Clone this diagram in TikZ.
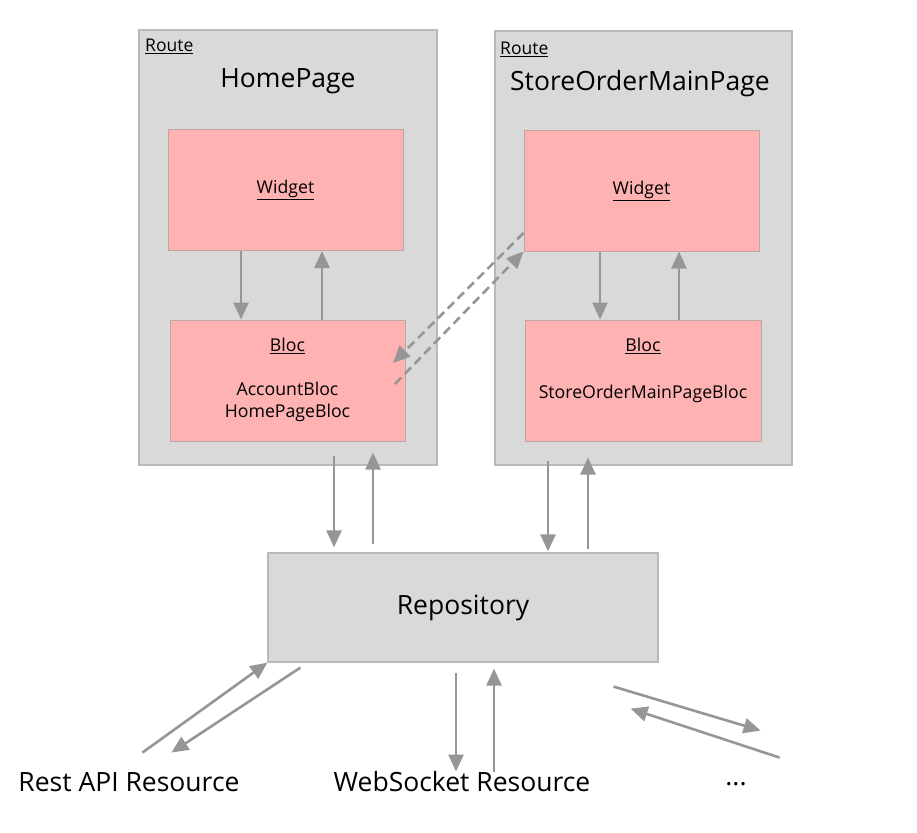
\documentclass[tikz,border=0pt]{standalone}
\usepackage{fontspec}
\setmainfont{Open Sans}
\usepackage{tikz}
\usetikzlibrary{arrows.meta, calc, positioning}

\definecolor{routegray}{RGB}{217,217,217}
\definecolor{routeline}{RGB}{185,185,185}
\definecolor{blocpink}{RGB}{255,178,178}
\definecolor{blocline}{RGB}{190,165,165}
\definecolor{arrgray}{RGB}{150,150,150}

\tikzset{
    routebox/.style={draw=routeline, fill=routegray, line width=1.2pt, inner sep=0pt},
    pinkbox/.style={draw=blocline, fill=blocpink, line width=1pt, inner sep=0pt,
        minimum width=235pt, minimum height=121pt},
    arr/.style={draw=arrgray, line width=2.6pt, -{Triangle[length=17pt,width=15pt]}},
    dasharr/.style={arr, dash pattern=on 9pt off 5pt},
    small/.style={font=\fontsize{17.5}{20}\selectfont, inner sep=0pt},
    mid/.style={font=\fontsize{17.7}{22}\selectfont, inner sep=0pt, align=center},
    big/.style={font=\fontsize{26.5}{30}\selectfont, inner sep=0pt}
}

\begin{document}
\begin{tikzpicture}[x=1pt, y=-1pt]
                \useasboundingbox (0,0) rectangle (917,832);

                \node[routebox, minimum width=298pt, minimum height=435pt] (hroute) at (288,247.5) {};
                \node[routebox, minimum width=297pt, minimum height=434pt] (sroute) at (643.5,248) {};
                \node[small, anchor=west] (hroutelbl) at (145,46) {\underline{Route}};
                \node[small, anchor=west] (sroutelbl) at (500,49) {\underline{Route}};
                \node[big] (htitle) at (288,81) {HomePage};
                \node[big] (stitle) at (640,84) {StoreOrderMainPage};

                \node[pinkbox] (hwidget) at (285.5,190) {};
                \node[pinkbox] (hbloc) at (287.5,380.5) {};
                \node[pinkbox] (swidget) at (641.5,190.5) {};
                \node[pinkbox, minimum width=236pt] (sbloc) at (643,380.5) {};

                \node[mid] (hwidgetlbl) at (hwidget) {\underline{Widget}};
                \node[mid] (swidgetlbl) at (swidget) {\underline{Widget}};
                \node[mid] (hbloclbl) at (287.5,346) {\underline{Bloc}};
                \node[mid] (sbloclbl) at (643,346) {\underline{Bloc}};
                \node[mid, below=28pt of hbloclbl] (hblocs) {AccountBloc\\HomePageBloc};
                \node[mid] (sblocs) at (643,394) {StoreOrderMainPageBloc};

                \node[big] (repo) [draw=routeline, fill=routegray, line width=1.2pt,
                    minimum width=390pt, minimum height=109pt] at (463,607.5) {Repository};

                \node[big] (rest) at (129,782) {Rest API Resource};
                \node[big] (ws) at (462,782) {WebSocket Resource};
                \node[big] (dots) at (736,784) {...};

                \foreach \w/\b/\dn/\up in {hwidget/hbloc/241/322, swidget/sbloc/600/679} {
                    \draw[arr] (\w.south -| \dn,0) -- (\b.north -| \dn,0);
                    \draw[arr] (\b.north -| \up,0) -- (\w.south -| \up,0);
                }

                \coordinate (dashend) at (393,363);
                \coordinate (dashstart) at (395,384);
                \draw[dasharr] (swidget.west |- 0,233) -- (dashend);
                \draw[dasharr] (dashstart) -- (swidget.south west);

                \draw[arr, shorten <=14pt, shorten >=5pt] (hbloc.south -| 334,0) -- (repo.north -| 334,0);
                \draw[arr, shorten <=8pt, shorten >=11pt] (repo.north -| 373,0) -- (hbloc.south -| 373,0);
                \draw[arr, shorten <=19pt, shorten >=1pt] (sbloc.south -| 548,0) -- (repo.north -| 548,0);
                \draw[arr, shorten <=3pt, shorten >=16pt] (repo.north -| 588,0) -- (sbloc.south -| 588,0);

                \draw[arr] ($(repo.south west)+(-125,90)$) -- (repo.south west);
                \draw[arr] ($(repo.south west)+(33,5)$) -- ($(repo.south west)+(-96,90)$);
                \draw[arr, shorten <=10pt] (repo.south -| 456,0) -- (ws.north -| 456,0);
                \draw[arr, shorten >=6pt] (ws.north -| 494,0) -- (repo.south -| 494,0);
                \draw[arr] ($(repo.south east)+(-45,24)$) -- ($(repo.south east)+(102,68)$);
                \draw[arr] ($(repo.south east)+(121,95)$) -- ($(repo.south east)+(-28,46)$);
            \end{tikzpicture}
\end{document}
